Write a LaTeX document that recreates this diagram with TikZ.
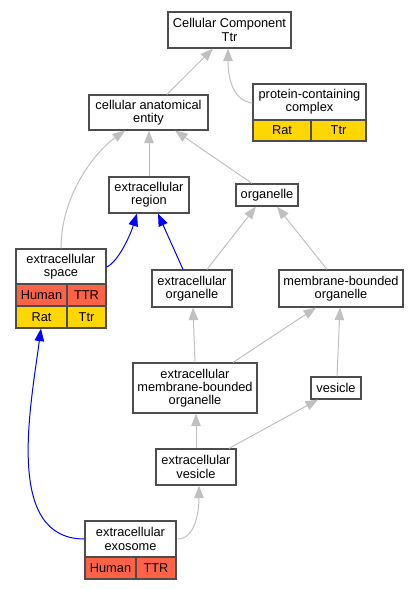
\documentclass[tikz,border=0pt]{standalone}
\usepackage{fontspec}
\setmainfont{Liberation Sans}
\usetikzlibrary{arrows.meta}
\definecolor{edgegray}{HTML}{C0C0C0}
\definecolor{boxline}{HTML}{4D4D4D}
\definecolor{human}{HTML}{FF6347}
\definecolor{rat}{HTML}{FFD700}
\tikzset{
  box/.style={draw=boxline, line width=1.2pt, fill=white, inner sep=0pt, align=center,
    font=\fontsize{12.8}{13.3}\selectfont},
  cell/.style={box},
  hcell/.style={cell, fill=human},
  rcell/.style={cell, fill=rat},
  gtip/.tip={Triangle[length=12.5pt,width=9.5pt]},
  ge/.style={draw=edgegray, line width=1pt, -gtip},
  be/.style={draw=blue, line width=1pt, -gtip},
}
\begin{document}
\begin{tikzpicture}[x=1pt,y=-1pt]
\useasboundingbox (0,0) rectangle (417,589);
% nodes
\node[box, minimum width=123pt, minimum height=36pt] (CC) at (229.5,30) {Cellular Component\\Ttr};
\node[box, minimum width=113pt, minimum height=36pt] (pcc) at (309.5,102) {protein-containing\\complex};
\node[rcell, minimum width=58pt, minimum height=21pt] (pccA) at (282,130.5) {Rat};
\node[rcell, minimum width=55pt, minimum height=21pt] (pccB) at (338.5,130.5) {Ttr};
\node[box, minimum width=119pt, minimum height=35pt] (cae) at (148.5,112.5) {cellular anatomical\\entity};
\node[box, minimum width=80pt, minimum height=36pt] (er) at (149,195) {extracellular\\region};
\node[box, minimum width=62pt, minimum height=22pt] (org) at (267,195) {organelle};
\node[box, minimum width=90pt, minimum height=36pt] (es) at (61,267) {extracellular\\space};
\node[hcell, minimum width=51pt, minimum height=22pt] (esA) at (41.5,295) {Human};
\node[hcell, minimum width=39pt, minimum height=22pt] (esB) at (86.5,295) {TTR};
\node[rcell, minimum width=51pt, minimum height=22pt] (esC) at (41.5,317) {Rat};
\node[rcell, minimum width=39pt, minimum height=22pt] (esD) at (86.5,317) {Ttr};
\node[box, minimum width=80pt, minimum height=37pt] (eo) at (192,288.5) {extracellular\\organelle};
\node[box, minimum width=124pt, minimum height=37pt] (mbo) at (341,288.5) {membrane-bounded\\organelle};
\node[box, minimum width=124pt, minimum height=50pt] (embo) at (195,388) {extracellular\\membrane-bounded\\organelle};
\node[box, minimum width=50pt, minimum height=22pt] (ves) at (336,388) {vesicle};
\node[box, minimum width=80pt, minimum height=36pt] (ev) at (196,467) {extracellular\\vesicle};
\node[box, minimum width=91pt, minimum height=36pt] (exo) at (130.5,539) {extracellular\\exosome};
\node[hcell, minimum width=51pt, minimum height=22pt] (exoA) at (110.5,568) {Human};
\node[hcell, minimum width=40pt, minimum height=22pt] (exoB) at (156,568) {TTR};
% edges
\draw[ge] ([xshift=18.5pt]cae.north) -- ([xshift=-16.5pt]CC.south);
\draw[ge] ([yshift=-1pt]pcc.west) .. controls (234,101) and (228,80) .. ([xshift=-1.5pt]CC.south);
\draw[ge] (er.north) -- (er.north |- cae.south);
\draw[ge] ([xshift=-15pt]org.north) -- ([xshift=26.5pt]cae.south);
\draw[ge] (es.north) .. controls (61,195) and (95,152) .. ([xshift=-23.5pt]cae.south);
\draw[be] (es.east) .. controls (118,262) and (130,236) .. ([xshift=-12pt]er.south);
\draw[be] ([xshift=-9pt]eo.north) -- ([xshift=9pt]er.south);
\draw[ge] ([xshift=15pt]eo.north) -- ([xshift=-11pt]org.south);
\draw[ge] ([xshift=-14pt]mbo.north) -- ([xshift=10pt]org.south);
\draw[ge] (embo.north) -- ([xshift=1pt]eo.south);
\draw[ge] ([xshift=38pt]embo.north) -- ([xshift=-25pt]mbo.south);
\draw[ge] ([xshift=1pt]ves.north) -- ([xshift=-1pt]mbo.south);
\draw[ge] (ev.north) -- ([xshift=1pt]embo.south);
\draw[ge] ([xshift=33pt]ev.north) -- ([xshift=-18pt]ves.south);
\draw[ge] ([xshift=1pt]exo.east) .. controls (195,539) and (199,512) .. ([xshift=3pt]ev.south);
\draw[be] (exo.west) .. controls (5,539) and (30,410) .. ([xshift=-20pt]esC.south -| es.south);
\end{tikzpicture}
\end{document}
